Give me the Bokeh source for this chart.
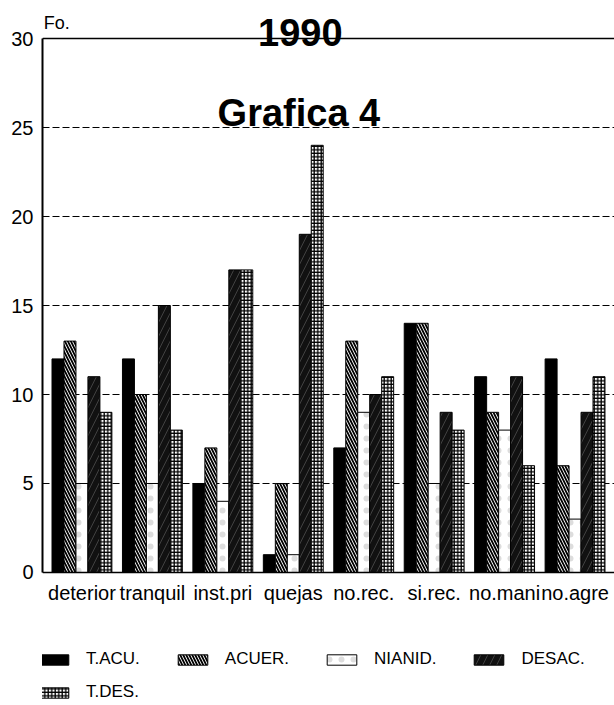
from bokeh.plotting import figure
from bokeh.models import Label, Legend, LegendItem, FactorRange, FixedTicker, Range1d, Span
from bokeh.transform import dodge
from bokeh.embed import file_html
from bokeh.resources import INLINE

categories = ["deterior", "tranquil", "inst.pri", "quejas", "no.rec.", "si.rec.", "no.mani", "no.agre"]
t_acu = [12, 12, 5, 1, 7, 14, 11, 12]
acuer = [13, 10, 7, 5, 13, 14, 9, 6]
nianid = [5, 5, 4, 1, 9, 5, 8, 3]
desac = [11, 15, 17, 19, 10, 9, 11, 9]
t_des = [9, 8, 17, 24, 11, 8, 6, 11]
series_names = ["T.ACU.", "ACUER.", "NIANID.", "DESAC.", "T.DES."]
y_ticks = [0, 5, 10, 15, 20, 25, 30]
title_text = "1990"
subtitle_text = "Grafica 4"
y_label = "Fo."

FONT = "Liberation Sans"

# frame spans the whole canvas height; value axis 0..30 occupies y 38..572 px
p = figure(x_range=FactorRange(factors=categories, range_padding=0.015),
           y_range=Range1d(-7.472, 32.135), width=614, height=705,
           output_backend="svg", toolbar_location=None, x_axis_location=None,
           min_border_left=42, min_border_right=0, min_border_top=0, min_border_bottom=0)

styles = [
    dict(fill_color="black"),
    dict(fill_color="white", hatch_pattern="\\", hatch_color="black", hatch_scale=6, hatch_weight=1.8),
    dict(fill_color="white", hatch_pattern=".", hatch_color="#dddddd", hatch_scale=12, hatch_weight=1),
    dict(fill_color="#111111", hatch_pattern="/", hatch_color="#888888", hatch_scale=14, hatch_weight=1, hatch_alpha=0.4),
    dict(fill_color="white", hatch_pattern="+", hatch_color="black", hatch_scale=3.5, hatch_weight=1.3),
]
data = dict(cats=categories, s0=t_acu, s1=acuer, s2=nianid, s3=desac, s4=t_des)
bw = 0.17
renderers = []
for j, name in enumerate(series_names):
    r = p.vbar(x=dodge("cats", (j - 2) * bw, range=p.x_range), top="s%d" % j, bottom=0, width=bw,
               source=data, line_color="black", line_width=1, **styles[j])
    renderers.append(r)

# category labels under the baseline
p.text(x="cats", y=0, text="cats", source=data, y_offset=10, text_align="center", text_baseline="top",
       text_font={"value": FONT}, text_font_size="20px", text_color="black")

# y axis
p.yaxis.ticker = FixedTicker(ticks=y_ticks)
p.yaxis.bounds = (0, 30)
p.yaxis.major_label_text_font = FONT
p.yaxis.major_label_text_font_size = "20px"
p.yaxis.major_label_text_color = "black"
p.yaxis.major_tick_out = 0
p.yaxis.major_tick_in = 0
p.yaxis.minor_tick_out = 0
p.yaxis.minor_tick_in = 0
p.yaxis.major_label_standoff = 9
p.yaxis.axis_line_width = 2
p.yaxis.axis_line_color = "black"

p.xgrid.grid_line_color = None
p.ygrid.grid_line_color = "black"
p.ygrid.grid_line_width = 1
p.ygrid.grid_line_dash = "7 3"
p.outline_line_color = None

p.add_layout(Span(location=0, dimension="width", line_color="black", line_width=1.5))
p.add_layout(Span(location=30, dimension="width", line_color="black", line_width=1.5))

p.add_layout(Label(x=3.6, y=30, y_offset=6, text=title_text, text_align="center", text_baseline="alphabetic",
                   text_font=FONT, text_font_size="38px", text_font_style="bold", text_color="black"))
p.add_layout(Label(x=3.58, y=25.84, text=subtitle_text, text_align="center", text_baseline="alphabetic",
                   text_font=FONT, text_font_size="38px", text_font_style="bold", text_color="black"))
p.add_layout(Label(x=0, y=30, x_offset=-3, y_offset=16, text=y_label, text_align="left",
                   text_baseline="alphabetic", text_font=FONT, text_font_size="18px", text_color="black"))

def make_legend(items, loc):
    return Legend(items=items, orientation="horizontal", location=loc,
                  glyph_width=37, glyph_height=13, label_standoff=14, spacing=34,
                  label_text_font=FONT, label_text_font_size="17px", label_text_color="black",
                  padding=0, margin=0, border_line_color=None, background_fill_alpha=0,
                  label_height=20)

leg1 = make_legend([LegendItem(label=series_names[j], renderers=[renderers[j]]) for j in range(4)], (-7, 36))
leg2 = make_legend([LegendItem(label=series_names[4], renderers=[renderers[4]])], (-7, 3))
p.add_layout(leg1)
p.add_layout(leg2)

open("out.html", "w").write(file_html(p, INLINE))
